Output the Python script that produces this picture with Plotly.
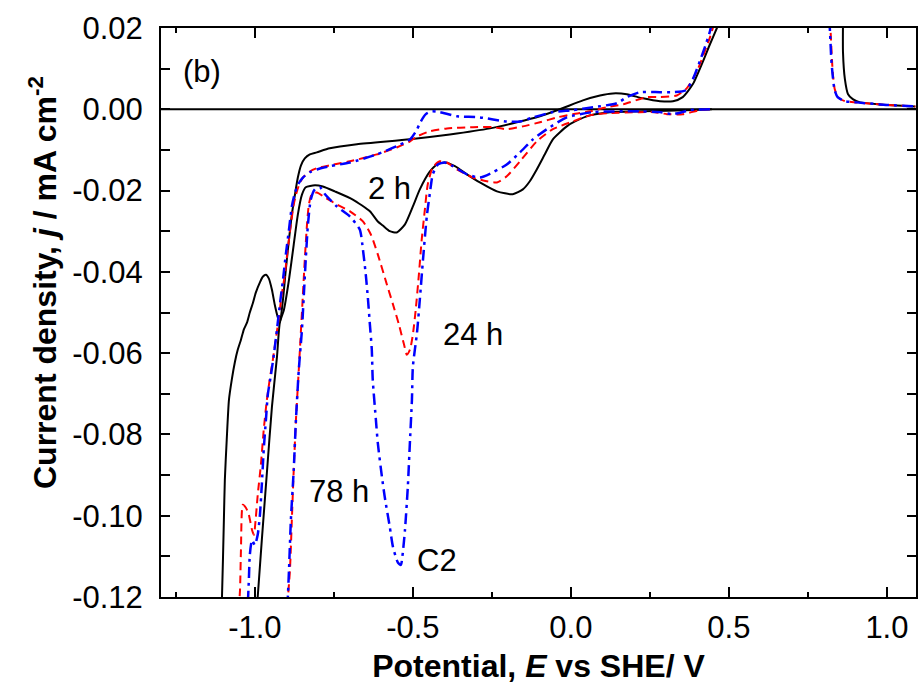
import plotly.graph_objects as go

# ---------------- data (E in V vs SHE, j in mA cm^-2) ----------------
# 2 h (black solid)
b_fwd_E = [-1.107, -1.104, -1.098, -1.095, -1.089, -1.082, -1.073, -1.063, -1.054, -1.044, -1.035, -1.025,
           -1.016, -1.006, -0.997, -0.984, -0.975, -0.965, -0.956, -0.946, -0.937, -0.927, -0.921, -0.911,
           -0.902, -0.892, -0.883, -0.873, -0.864, -0.854, -0.842, -0.826, -0.804, -0.763, -0.677, -0.509,
           -0.383, -0.256, -0.171, -0.098, -0.035, 0.038, 0.092, 0.133, 0.177, 0.228, 0.282, 0.323, 0.354,
           0.386, 0.418, 0.440, 0.462, 0.472]
b_fwd_j = [-0.125, -0.120, -0.101, -0.0912, -0.0813, -0.0715, -0.0665, -0.0621, -0.0591, -0.0567, -0.0542,
           -0.0525, -0.050, -0.0476, -0.0451, -0.0426, -0.0412, -0.0407, -0.0416, -0.0444, -0.0481, -0.0513,
           -0.0525, -0.0468, -0.0394, -0.032, -0.0259, -0.0209, -0.0168, -0.0138, -0.0121, -0.0111, -0.0106,
           -0.0096, -0.0086, -0.0074, -0.0062, -0.0047, -0.0032, -0.0017, 0.0, 0.0022, 0.0034, 0.0039, 0.0037,
           0.0027, 0.0020, 0.0020, 0.0030, 0.0062, 0.0118, 0.0160, 0.0200, 0.0220]
b_hi_E = [0.861, 0.861, 0.867, 0.877, 0.892, 0.915, 0.978, 1.09]
b_hi_j = [0.022, 0.014, 0.0074, 0.0037, 0.0025, 0.0017, 0.0012, 0.0007]
b_rev_E = [0.446, 0.386, 0.228, 0.123, 0.060, 0.013, -0.013, -0.057, -0.082, -0.108, -0.130, -0.152, -0.184,
           -0.234, -0.288, -0.329, -0.367, -0.399, -0.424, -0.446, -0.478, -0.500, -0.525, -0.551, -0.573,
           -0.595, -0.611, -0.636, -0.690, -0.747, -0.785, -0.810, -0.839, -0.851, -0.864, -0.877, -0.892,
           -0.908, -0.921, -0.930, -0.946, -0.962, -0.978, -0.991, -0.994]
b_rev_j = [0.0, -0.0002, -0.0005, -0.0007, -0.0015, -0.003, -0.0042, -0.0074, -0.011, -0.0148, -0.0177,
           -0.0197, -0.0209, -0.0202, -0.018, -0.016, -0.014, -0.0131, -0.0136, -0.0153, -0.0197, -0.0239,
           -0.0283, -0.0303, -0.030, -0.0286, -0.0276, -0.0251, -0.0222, -0.0202, -0.019, -0.0187, -0.0192,
           -0.021, -0.0259, -0.0333, -0.0419, -0.0493, -0.0525, -0.0609, -0.0732, -0.0895, -0.106, -0.120,
           -0.123]

# 24 h (red dashed)
r_fwd_E = [-1.051, -1.047, -1.044, -1.038, -1.028, -1.019, -1.009, -1.003, -0.997, -0.991, -0.981, -0.972,
           -0.962, -0.953, -0.943, -0.934, -0.924, -0.915, -0.905, -0.896, -0.886, -0.877, -0.867, -0.858,
           -0.848, -0.826, -0.804, -0.763, -0.699, -0.614, -0.551, -0.509, -0.487, -0.446, -0.392, -0.310,
           -0.247, -0.203, -0.152, -0.098, -0.044, 0.006, 0.060, 0.114, 0.165, 0.241, 0.282, 0.335, 0.367,
           0.399, 0.424, 0.440, 0.453]
r_fwd_j = [-0.123, -0.1183, -0.1084, -0.0973, -0.0981, -0.0998, -0.1035, -0.1047, -0.1005, -0.0949, -0.0875,
           -0.0789, -0.0715, -0.0665, -0.0616, -0.0567, -0.0513, -0.0456, -0.0407, -0.0345, -0.0283, -0.0234,
           -0.0202, -0.0182, -0.0168, -0.0153, -0.0145, -0.0138, -0.0128, -0.0111, -0.0094, -0.0079, -0.0067,
           -0.0054, -0.0047, -0.0044, -0.0044, -0.0049, -0.0042, -0.0032, -0.002, -0.0012, -0.0005, 0.0005,
           0.0012, 0.003, 0.003, 0.0034, 0.0052, 0.0094, 0.0143, 0.0177, 0.021]
r_hi_E = [0.820, 0.823, 0.826, 0.829, 0.835, 0.845, 0.867, 0.905, 0.978, 1.09]
r_hi_j = [0.022, 0.0172, 0.0123, 0.0086, 0.0049, 0.003, 0.002, 0.0017, 0.0012, 0.0007]
r_rev_E = [0.440, 0.408, 0.354, 0.304, 0.266, 0.218, 0.114, 0.060, 0.006, -0.057, -0.108, -0.161, -0.203,
           -0.234, -0.266, -0.310, -0.361, -0.392, -0.415, -0.437, -0.453, -0.462, -0.472, -0.481, -0.491,
           -0.500, -0.509, -0.519, -0.528, -0.544, -0.563, -0.585, -0.611, -0.633, -0.658, -0.699, -0.741,
           -0.778, -0.804, -0.820, -0.829, -0.835, -0.842, -0.848, -0.854, -0.861, -0.870, -0.877, -0.883,
           -0.889, -0.896]
r_rev_j = [0.0, -0.0002, -0.0012, -0.0012, -0.0007, -0.0007, -0.001, -0.0015, -0.003, -0.0049, -0.0079,
           -0.0128, -0.0165, -0.018, -0.0177, -0.0168, -0.0148, -0.0131, -0.0128, -0.0143, -0.0185, -0.0246,
           -0.032, -0.0407, -0.0493, -0.0554, -0.0591, -0.0604, -0.0579, -0.053, -0.048, -0.0424, -0.0357,
           -0.0308, -0.0276, -0.0251, -0.0234, -0.0217, -0.0205, -0.0209, -0.0234, -0.0283, -0.037, -0.0456,
           -0.0542, -0.0641, -0.0764, -0.0887, -0.101, -0.1134, -0.1207]

# 78 h (blue dash-dot)
u_fwd_E = [-1.022, -1.019, -1.016, -1.009, -1.000, -0.991, -0.984, -0.978, -0.972, -0.965, -0.959, -0.949,
           -0.940, -0.930, -0.921, -0.911, -0.902, -0.892, -0.883, -0.873, -0.861, -0.848, -0.826, -0.804,
           -0.763, -0.699, -0.614, -0.551, -0.509, -0.490, -0.475, -0.459, -0.440, -0.415, -0.361, -0.288,
           -0.203, -0.161, -0.120, -0.057, 0.006, 0.070, 0.146, 0.177, 0.218, 0.282, 0.323, 0.364, 0.386,
           0.408, 0.427, 0.440, 0.446]
u_fwd_j = [-0.1212, -0.1158, -0.1097, -0.106, -0.1072, -0.1047, -0.0998, -0.0924, -0.0838, -0.0764, -0.0702,
           -0.0653, -0.0604, -0.0542, -0.0481, -0.0419, -0.0357, -0.0296, -0.0239, -0.0205, -0.0182, -0.0168,
           -0.0155, -0.0148, -0.014, -0.0131, -0.0111, -0.0091, -0.0074, -0.0054, -0.003, -0.0012, -0.0005,
           -0.0007, -0.0017, -0.002, -0.003, -0.003, -0.002, -0.0007, -0.0002, 0.0005, 0.0015, 0.0030, 0.0042,
           0.0042, 0.0042, 0.0047, 0.0074, 0.0118, 0.016, 0.0192, 0.0212]
u_hi_E = [0.818, 0.821, 0.824, 0.828, 0.834, 0.844, 0.867, 0.905, 0.978, 1.09]
u_hi_j = [0.022, 0.0172, 0.0123, 0.0086, 0.0049, 0.003, 0.0020, 0.0017, 0.0012, 0.0007]
u_rev_E = [0.440, 0.377, 0.323, 0.282, 0.218, 0.070, -0.013, -0.076, -0.120, -0.161, -0.203, -0.247, -0.288,
           -0.329, -0.373, -0.399, -0.421, -0.437, -0.446, -0.456, -0.468, -0.478, -0.487, -0.500, -0.503,
           -0.509, -0.516, -0.525, -0.532, -0.538, -0.547, -0.563, -0.573, -0.589, -0.598, -0.611, -0.617,
           -0.627, -0.630, -0.636, -0.642, -0.649, -0.658, -0.668, -0.699, -0.741, -0.778, -0.794, -0.810,
           -0.823, -0.832, -0.839, -0.845, -0.851, -0.861, -0.870, -0.877, -0.886, -0.892, -0.896]
u_rev_j = [0.0, -0.0002, -0.0012, -0.0007, -0.0005, -0.0007, -0.002, -0.0049, -0.0074, -0.0106, -0.0136,
           -0.0155, -0.0168, -0.016, -0.014, -0.0131, -0.0136, -0.016, -0.0205, -0.0264, -0.037, -0.0468,
           -0.055, -0.0633, -0.0715, -0.0813, -0.0929, -0.1035, -0.1092, -0.1121, -0.1116, -0.1077, -0.1028,
           -0.0954, -0.0904, -0.0821, -0.0764, -0.0665, -0.0591, -0.053, -0.0468, -0.0407, -0.0345, -0.0296,
           -0.0264, -0.0239, -0.0209, -0.0192, -0.0197, -0.0222, -0.0283, -0.037, -0.0456, -0.0542, -0.0641,
           -0.0764, -0.0887, -0.101, -0.1134, -0.1207]

labels = ["2 h", "24 h", "78 h", "C2"]
label_E = [-0.573, -0.310, -0.733, -0.424]
label_j = [-0.0195, -0.0554, -0.0941, -0.1109]

x_ticks = [-1.0, -0.5, 0.0, 0.5, 1.0]
x_ticktext = ["-1.0", "-0.5", "0.0", "0.5", "1.0"]
y_ticks = [0.02, 0.0, -0.02, -0.04, -0.06, -0.08, -0.10, -0.12]
y_ticktext = ["0.02", "0.00", "-0.02", "-0.04", "-0.06", "-0.08", "-0.10", "-0.12"]

x_title = "<b>Potential, <i>E</i> vs SHE/ V</b>"
y_title = "<b>Current density, <i>j</i> / mA cm<sup>-2</sup></b>"

FONT = "Liberation Sans, Arial, Helvetica, sans-serif"


def join(*segs):
    xs, ys = [], []
    for i, (sx, sy) in enumerate(segs):
        if i:
            xs.append(None)
            ys.append(None)
        xs += sx
        ys += sy
    return xs, ys


fig = go.Figure()
# zero line
fig.add_trace(go.Scatter(x=[-1.4, 1.2], y=[0, 0], mode="lines",
                         line=dict(color="black", width=2), hoverinfo="skip"))

bx, by = join((b_fwd_E, b_fwd_j), (b_hi_E, b_hi_j), (b_rev_E, b_rev_j))
rx, ry = join((r_fwd_E, r_fwd_j), (r_hi_E, r_hi_j), (r_rev_E, r_rev_j))
ux, uy = join((u_fwd_E, u_fwd_j), (u_hi_E, u_hi_j), (u_rev_E, u_rev_j))

fig.add_trace(go.Scatter(x=bx, y=by, mode="lines", name="2 h",
                         line=dict(color="black", width=2, shape="spline", smoothing=0.6)))
fig.add_trace(go.Scatter(x=rx, y=ry, mode="lines", name="24 h",
                         line=dict(color="#ff0000", width=2, dash="8px,5px", shape="spline", smoothing=0.6)))
fig.add_trace(go.Scatter(x=ux, y=uy, mode="lines", name="78 h",
                         line=dict(color="#0000ff", width=2.5, dash="11px,5px,3px,5px", shape="spline",
                                   smoothing=0.6)))

for t, xe, yj in zip(labels, label_E, label_j):
    fig.add_annotation(x=xe, y=yj, text=t, showarrow=False, xanchor="center", yanchor="middle",
                       font=dict(family=FONT, size=31, color="black"))
fig.add_annotation(xref="paper", yref="paper", x=0.0543, y=0.9244, text="(b)", showarrow=False,
                   xanchor="center", yanchor="middle",
                   font=dict(family=FONT, size=31, color="black"))
# y-axis title placed as a rotated annotation
fig.add_annotation(xref="paper", yref="paper", x=-0.1563, y=0.5536, text=y_title, showarrow=False,
                   textangle=-90, xanchor="center", yanchor="middle",
                   font=dict(family=FONT, size=32, color="black"))

axis_font = dict(family=FONT, size=31, color="black")
fig.update_xaxes(range=[-1.297, 1.092], tickvals=x_ticks, ticktext=x_ticktext, ticks="inside",
                 ticklen=10, tickwidth=2, tickcolor="black", showline=True, linewidth=2,
                 linecolor="black", mirror="allticks", showgrid=False, zeroline=False,
                 tickfont=axis_font, ticklabelstandoff=2,
                 minor=dict(dtick=0.25, tick0=0, ticks="inside", ticklen=5, tickwidth=2, tickcolor="black"),
                 title=dict(text=x_title, font=dict(family=FONT, size=32, color="black"), standoff=10))
fig.update_yaxes(range=[-0.12, 0.02], tickvals=y_ticks, ticktext=y_ticktext, ticks="inside",
                 ticklen=9, tickwidth=2, tickcolor="black", showline=True, linewidth=2,
                 linecolor="black", mirror="allticks", showgrid=False, zeroline=False,
                 tickfont=axis_font, ticklabelstandoff=10,
                 minor=dict(dtick=0.01, tick0=0, ticks="inside", ticklen=9, tickwidth=2, tickcolor="black"))

fig.update_layout(width=921, height=697, margin=dict(l=161, r=5, t=28, b=100, autoexpand=False),
                  plot_bgcolor="white", paper_bgcolor="white", showlegend=False)
fig.write_html("out.html", config={"displayModeBar": False},
               post_script="document.body.style.margin='0px';document.body.style.overflow='hidden';")
